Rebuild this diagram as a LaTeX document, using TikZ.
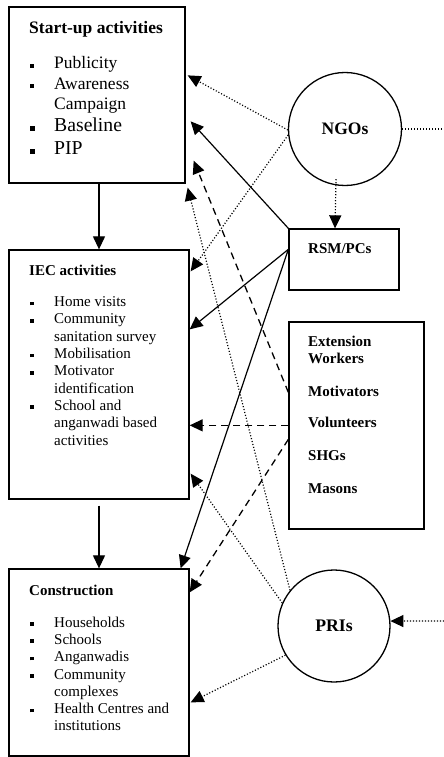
\documentclass[tikz,border=0pt]{standalone}
\usepackage{fontspec}
\setmainfont{Liberation Serif}
\usetikzlibrary{arrows.meta,calc}

\newcommand{\sq}[1][4pt]{\makebox[24pt][l]{\raisebox{1.3pt}{\rule{#1}{#1}}}}
\newcommand{\ind}{\hspace*{24pt}}

\tikzset{
  box/.style={draw, line width=1.3pt, inner sep=0pt},
  ring/.style={draw, circle, line width=1.3pt, inner sep=0pt},
  head/.style={-{Triangle[length=13pt,width=12pt]}},
  solidarr/.style={head, line width=1.2pt},
  dasharr/.style={head, line width=1.3pt, dash pattern=on 7pt off 5pt},
  dotline/.style={line width=1.2pt, dash pattern=on 1.1pt off 1.9pt},
  dotarr/.style={head, dotline},
  title/.style={anchor=west, inner sep=0pt, font=\fontsize{15}{17}\selectfont\bfseries},
  list/.style={anchor=north west, inner sep=0pt, align=left, font=\fontsize{15}{17.3}\selectfont}
}

\begin{document}
\begin{tikzpicture}[x=1pt,y=-1pt]
\useasboundingbox (0,0) rectangle (444,757);

% boxes and circles
\node[box, minimum width=176pt, minimum height=176pt] (startup) at (97,95) {};
\node[box, minimum width=180pt, minimum height=249pt] (iec) at (99,374.5) {};
\node[box, minimum width=180pt, minimum height=187pt] (constr) at (99,662.5) {};
\node[box, minimum width=110pt, minimum height=61pt] (rsm) at (344,259.5) {};
\node[box, minimum width=135pt, minimum height=207pt] (ext) at (356.5,425.5) {};
\node[ring, minimum size=113pt, font=\fontsize{17.5}{20}\selectfont\bfseries] (ngo) at (345,129) {NGOs};
\node[ring, minimum size=112pt, font=\fontsize{17.7}{20}\selectfont\bfseries] (pri) at (334,626) {PRIs};

% texts
\node[title, font=\fontsize{17.5}{20}\selectfont\bfseries] (startuptitle) at (29,29.5) {Start-up activities};
\node[list, font=\fontsize{17.5}{20.5}\selectfont] (startuplist) at (30,56.5) {\sq Publicity\\ \sq Awareness\\ \ind Campaign\\[1.5pt]
  {\fontsize{19.7}{22}\selectfont\sq[4.6pt]Baseline}\\[2.5pt] {\fontsize{19.7}{22}\selectfont\sq[4.6pt]PIP}};

\node[title] (iectitle) at (29,270) {IEC activities};
\node[list] (ieclist) at (30,296.5) {\sq[3.7pt]Home visits\\ \sq[3.7pt]Community\\ \ind sanitation survey\\ \sq[3.7pt]Mobilisation\\
  \sq[3.7pt]Motivator\\ \ind identification\\ \sq[3.7pt]School and\\ \ind anganwadi based\\ \ind activities};

\node[title] (constrtitle) at (29,590) {Construction};
\node[list] (constrlist) at (30,616.5) {\sq[3.7pt]Households\\ \sq[3.7pt]Schools\\ \sq[3.7pt]Anganwadis\\ \sq[3.7pt]Community\\
  \ind complexes\\ \sq[3.7pt]Health Centres and\\ \ind institutions};

\node[title] (rsmtxt) at (308,249) {RSM/PCs};
\node[list, font=\fontsize{15}{16.6}\selectfont\bfseries] (exttxt) at (308,336) {Extension\\ Workers\\[16.6pt] Motivators\\[14.5pt] Volunteers\\[16.6pt] SHGs\\[16.6pt] Masons};

% free ends at the right margin
\coordinate (ngoout) at (444,129);
\coordinate (priin) at (444,621);

% connectors
\draw[solidarr] (startup.south -| iec.north) -- (iec.north);
\draw[solidarr] ([yshift=-6pt]iec.south) -- (constr.north);
\draw[dotline] (ngo.east) -- (ngoout);
\draw[dotarr] (priin) -- (pri.5);

\draw[dotarr] (ngo.181) -- ([xshift=2pt,yshift=-69pt]startup.north east);
\draw[dotarr] (ngo.186) -- ([xshift=1pt,yshift=-22pt]iec.north east);
\draw[dotarr] ([xshift=-9pt,yshift=7pt]ngo.south) -- ([xshift=-9pt]rsm.north);

\draw[solidarr] (rsm.north west) -- ([xshift=5pt,yshift=-115pt]startup.north east);
\draw[solidarr] ([yshift=-21pt]rsm.north west) -- ([yshift=-80pt]iec.north east);
\draw[solidarr] ([yshift=-21pt]rsm.north west) -- ([xshift=-9pt]constr.north east);

\draw[dasharr] ([yshift=-71pt]ext.north west) -- ([xshift=8pt,yshift=23pt]startup.south east);
\draw[dasharr] ([yshift=-104pt]ext.north west) -- ([yshift=-104pt]ext.north west -| iec.east);
\draw[dasharr] ([yshift=-118pt]ext.north west) -- ([yshift=-24pt]constr.north east);

\draw[dotarr] (pri.141) -- ([xshift=2pt,yshift=-4pt]startup.south east);
\draw[dotarr] (pri.156) -- ([xshift=1pt,yshift=26pt]iec.south east);
\draw[dotarr] (pri.211) -- ([xshift=1pt,yshift=-134pt]constr.north east);
\end{tikzpicture}
\end{document}
